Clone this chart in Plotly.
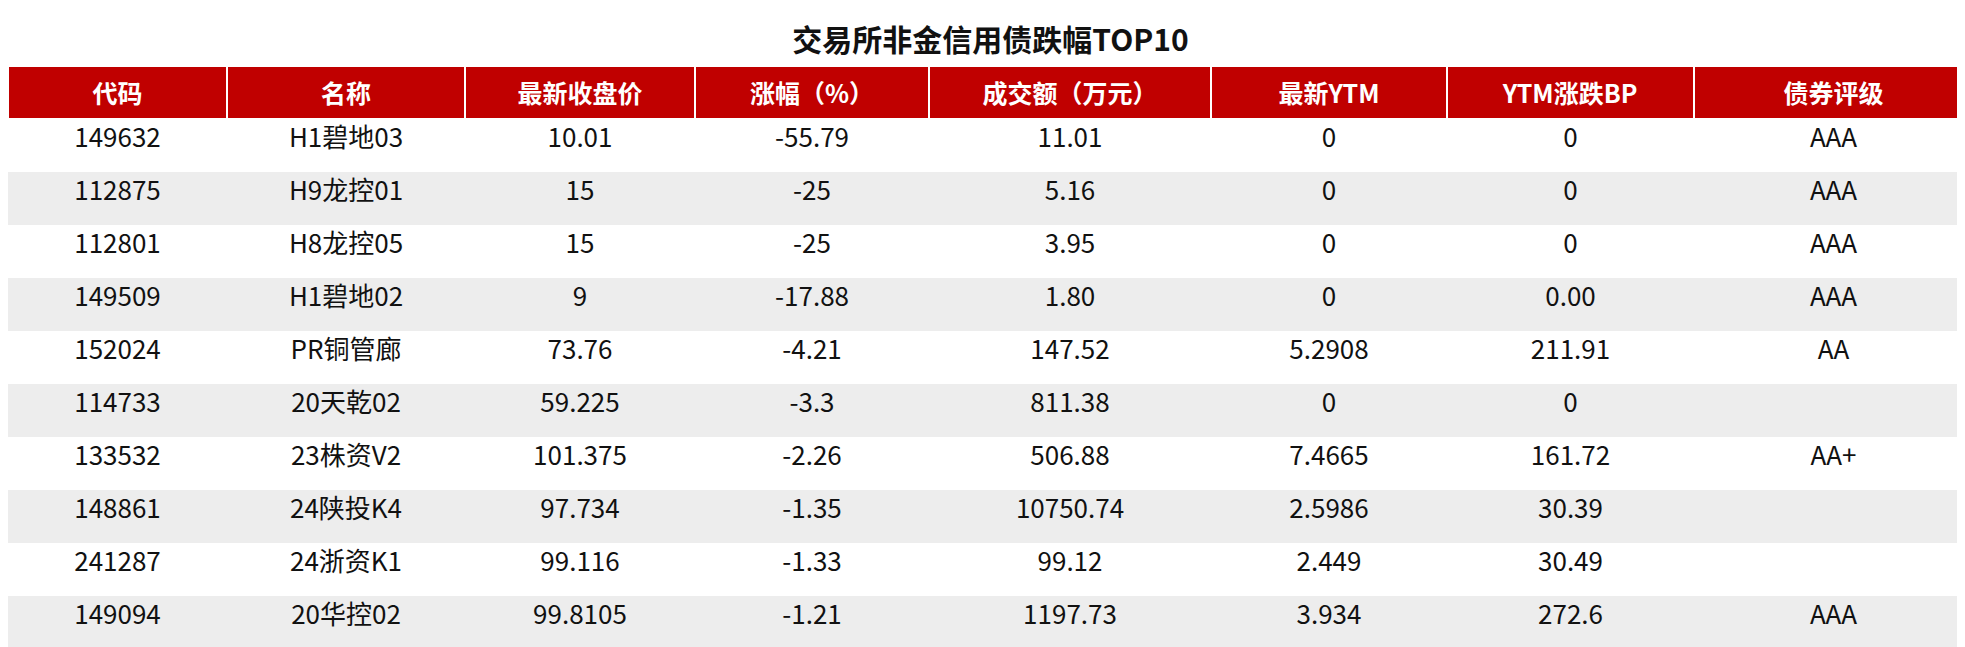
import plotly.graph_objects as go

headers = ["代码", "名称", "最新收盘价", "涨幅（%）", "成交额（万元）", "最新YTM", "YTM涨跌BP", "债券评级"]
codes = ["149632", "112875", "112801", "149509", "152024", "114733", "133532", "148861", "241287", "149094"]
names = ["H1碧地03", "H9龙控01", "H8龙控05", "H1碧地02", "PR铜管廊", "20天乾02", "23株资V2", "24陕投K4", "24浙资K1", "20华控02"]
close = ["10.01", "15", "15", "9", "73.76", "59.225", "101.375", "97.734", "99.116", "99.8105"]
change = ["-55.79", "-25", "-25", "-17.88", "-4.21", "-3.3", "-2.26", "-1.35", "-1.33", "-1.21"]
amount = ["11.01", "5.16", "3.95", "1.80", "147.52", "811.38", "506.88", "10750.74", "99.12", "1197.73"]
ytm = ["0", "0", "0", "0", "5.2908", "0", "7.4665", "2.5986", "2.449", "3.934"]
ytm_bp = ["0", "0", "0", "0.00", "211.91", "0", "161.72", "30.39", "30.49", "272.6"]
rating = ["AAA", "AAA", "AAA", "AAA", "AA", "", "AA+", "", "", "AAA"]

col_widths = [219, 238, 230, 234, 282, 236, 247, 279]
fills = ["#FFFFFF" if i % 2 == 0 else "#EDEDED" for i in range(len(codes))]

fig = go.Figure(go.Table(
    columnwidth=col_widths,
    domain=dict(x=[0, 1], y=[0, 1 - 58 / 647]),
    header=dict(values=[f"<b>{h}</b>" for h in headers], fill_color="#C00000",
                line=dict(color="white", width=1.5), align="center", height=53,
                font=dict(family="Noto Sans CJK SC", size=25, color="white")),
    cells=dict(values=[codes, names, close, change, amount, ytm, ytm_bp, rating],
               fill_color=[fills] * 8, line=dict(width=0, color="rgba(0,0,0,0)"),
               align="center", height=53,
               font=dict(family="Noto Sans CJK SC", size=26, color="#111111")),
))
fig.update_layout(
    width=1965, height=647, margin=dict(l=0, r=0, t=0, b=0),
    paper_bgcolor="white",
    title=dict(text="<b>交易所非金信用债跌幅TOP10</b>", x=0.5, xanchor="center",
               y=1 - 32 / 647, yanchor="middle",
               font=dict(family="Noto Sans CJK SC", size=30, color="#111111")),
)
fig.write_html("out.html")
